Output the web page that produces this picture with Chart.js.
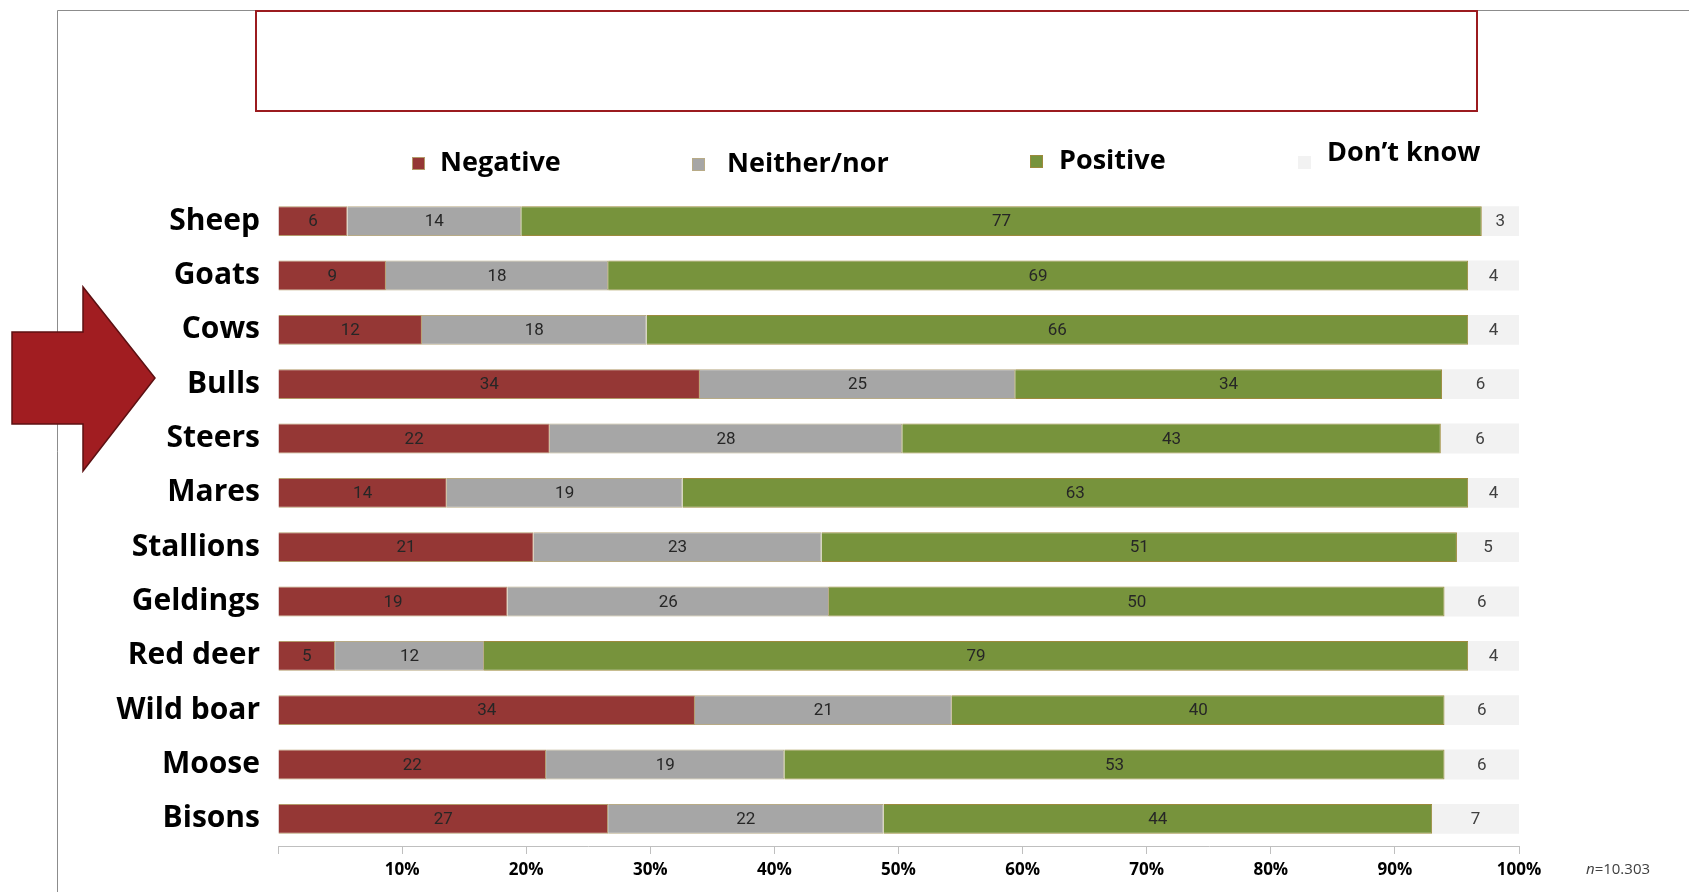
<!DOCTYPE html>
<html>
<head>
<meta charset="utf-8">
<script src="https://cdn.jsdelivr.net/npm/chart.js@4.4.0/dist/chart.umd.min.js"></script>
<style>
  body { margin: 0; background: #fff; }
  #wrap { position: relative; width: 1689px; height: 892px; }
</style>
</head>
<body>
<div id="wrap"><canvas id="animalChart"></canvas></div>
<script>
const categories = ['Sheep', 'Goats', 'Cows', 'Bulls', 'Steers', 'Mares', 'Stallions', 'Geldings', 'Red deer', 'Wild boar', 'Moose', 'Bisons']
const negative = [5.6, 8.7, 11.6, 34.0, 21.9, 13.6, 20.6, 18.5, 4.6, 33.6, 21.6, 26.6]
const neither = [14.0, 17.9, 18.1, 25.4, 28.4, 19.0, 23.2, 25.9, 12.0, 20.7, 19.2, 22.2]
const positive = [77.4, 69.3, 66.2, 34.4, 43.4, 63.3, 51.2, 49.6, 79.3, 39.7, 53.2, 44.2]
const dontKnow = [3.0, 4.1, 4.1, 6.2, 6.3, 4.1, 5.0, 6.0, 4.1, 6.0, 6.0, 7.0]
const xTicks = [0, 10, 20, 30, 40, 50, 60, 70, 80, 90, 100]

const seriesNames = ['Negative', 'Neither/nor', 'Positive', 'Don\u2019t know']
const seriesColors = ['#953735', '#a6a6a6', '#77933c', '#f2f2f2']
const seriesBorders = ['#b39a6a', '#b8ab86', '#9c8a3c', '#f2f2f2']

const boldFont = '"Open Sans", "DejaVu Sans", sans-serif'

// legend spots are uneven in the original, so draw it by hand
const legendSpots = [
  { mx: 412, my: 157, tx: 440, ty: 163 },
  { mx: 692, my: 158, tx: 727, ty: 164 },
  { mx: 1030, my: 155, tx: 1059, ty: 161 },
  { mx: 1298, my: 156, tx: 1327, ty: 153 }
]

const decorPlugin = {
  id: 'decor',
  beforeDraw(chart) {
    const ctx = chart.ctx
    ctx.save()
    // frame lines
    ctx.strokeStyle = '#8c8c8c'
    ctx.lineWidth = 1
    ctx.beginPath()
    ctx.moveTo(57.5, 892)
    ctx.lineTo(57.5, 10.5)
    ctx.lineTo(1689, 10.5)
    ctx.stroke()

    // empty title box
    ctx.strokeStyle = '#9b1b1f'
    ctx.lineWidth = 2
    ctx.strokeRect(256, 11, 1221, 100)

    // arrow
    ctx.beginPath()
    ctx.moveTo(12, 332)
    ctx.lineTo(83, 332)
    ctx.lineTo(83, 287)
    ctx.lineTo(155, 378)
    ctx.lineTo(83, 471)
    ctx.lineTo(83, 424)
    ctx.lineTo(12, 424)
    ctx.closePath()
    ctx.fillStyle = '#a11d21'
    ctx.fill()
    ctx.strokeStyle = '#5c1012'
    ctx.lineWidth = 1.5
    ctx.stroke()

    // legend
    ctx.textBaseline = 'middle'
    ctx.textAlign = 'left'
    ctx.font = 'bold 27px ' + boldFont
    seriesNames.forEach((name, i) => {
      const s = legendSpots[i]
      ctx.fillStyle = seriesColors[i]
      ctx.fillRect(s.mx, s.my, 13, 13)
      if (i < 3) {
        ctx.strokeStyle = seriesBorders[i]
        ctx.lineWidth = 1
        ctx.strokeRect(s.mx + 0.5, s.my + 0.5, 12, 12)
      }
      ctx.fillStyle = '#000'
      ctx.fillText(name, s.tx, s.ty)
    })

    // sample size note
    ctx.fillStyle = '#404040'
    ctx.font = 'italic 15px "Open Sans", sans-serif'
    ctx.fillText('n', 1586, 870)
    const nw = ctx.measureText('n').width
    ctx.font = '15px "Open Sans", sans-serif'
    ctx.fillText('=10.303', 1586 + nw, 870)
    ctx.restore()
  },
  afterDatasetsDraw(chart) {
    const ctx = chart.ctx
    ctx.save()
    ctx.font = '17px Roboto, sans-serif'
    ctx.textAlign = 'center'
    ctx.textBaseline = 'middle'
    chart.data.datasets.forEach((ds, i) => {
      const meta = chart.getDatasetMeta(i)
      ctx.fillStyle = i == 3 ? '#404040' : '#262626'
      meta.data.forEach((bar, j) => {
        const cx = (bar.x + bar.base) / 2
        ctx.fillText(String(Math.round(ds.data[j])), cx, bar.y + 1)
      })
    })
    ctx.restore()
  }
}

const seriesData = [negative, neither, positive, dontKnow]

new Chart(document.getElementById('animalChart'), {
  type: 'bar',
  data: {
    labels: categories,
    datasets: seriesData.map((values, i) => ({
      label: seriesNames[i],
      data: values,
      backgroundColor: seriesColors[i],
      borderColor: seriesBorders[i],
      borderWidth: i < 3 ? 1 : 0,
      barPercentage: 0.55,
      categoryPercentage: 1
    }))
  },
  options: {
    indexAxis: 'y',
    responsive: true,
    maintainAspectRatio: false,
    animation: false,
    layout: { padding: { top: 194, right: 170, bottom: 0, left: 0 } },
    plugins: {
      legend: { display: false },
      tooltip: { enabled: false }
    },
    scales: {
      x: {
        stacked: true,
        min: 0,
        max: 100,
        afterBuildTicks: scale => { scale.ticks = xTicks.map(v => ({ value: v })) },
        afterFit: scale => { scale.height = 46 },
        grid: { display: true, drawOnChartArea: false, drawTicks: true, tickLength: 8, color: '#bfbfbf' },
        border: { display: true, color: '#bfbfbf' },
        ticks: {
          padding: 6,
          color: '#000',
          font: { family: boldFont, weight: 'bold', size: 17 },
          maxRotation: 0,
          callback: v => v == 0 ? '' : v + '%'
        }
      },
      y: {
        stacked: true,
        afterFit: scale => { scale.width = 278 },
        grid: { display: false },
        border: { display: false },
        ticks: {
          padding: 10,
          color: '#000',
          font: { family: boldFont, weight: 'bold', size: 30 }
        }
      }
    }
  },
  plugins: [decorPlugin]
})
</script>
</body>
</html>
